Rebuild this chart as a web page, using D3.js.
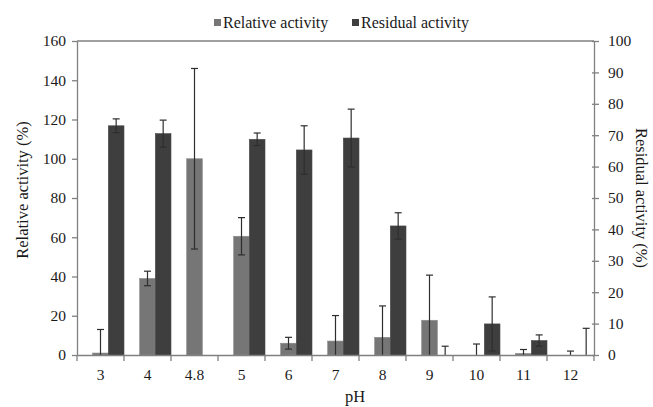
<!DOCTYPE html>
<html><head><meta charset="utf-8">
<script src="https://cdn.jsdelivr.net/npm/d3@7"></script>
<style>body{margin:0;background:#fff}svg{display:block}</style>
</head><body>
<svg id="c" width="653" height="407"></svg>
<script>
const categories = ["3","4","4.8","5","6","7","8","9","10","11","12"];
const relative    = [1, 39, 100, 60.5, 6, 7.1, 9, 17.7, 0, 0.8, 0];
const relativeErr = [12, 3.7, 46, 9.5, 3, 13, 16, 23, 5.6, 2, 2];
const residual    = [73, 70.5, 0, 68.7, 65.3, 69.1, 41.1, 0, 9.9, 4.6, 0];
const residualErr = [2.2, 4.3, 0, 2, 7.7, 9.2, 4.2, 2.8, 8.6, 1.8, 8.5];
const leftTicks = [0,20,40,60,80,100,120,140,160];
const rightTicks = [0,10,20,30,40,50,60,70,80,90,100];

const svg = d3.select("#c");
const FONT = "'Liberation Serif','Times New Roman',serif";
const L = 77, R = 594, T = 41, B = 355;
const axisColor = "#808080";
const grayC = "#767676", darkC = "#3e3e3e";
const txtC = "#1a1a1a";

const x = d3.scaleBand().domain(categories).range([L, R]).padding(0);
const yL = d3.scaleLinear().domain([0,160]).range([B, T]);
const yR = d3.scaleLinear().domain([0,100]).range([B, T]);
const bw = x.bandwidth();

// bars
const g = svg.append("g");
const relData = categories.map((c,i) => ({c, v: relative[i]})).filter(d => d.v > 0);
const resData = categories.map((c,i) => ({c, v: residual[i]})).filter(d => d.v > 0);
g.selectAll("rect.rel").data(relData).join("rect")
  .attr("x", d => x(d.c) + bw/3).attr("width", bw/3)
  .attr("y", d => yL(d.v)).attr("height", d => B - yL(d.v))
  .attr("fill", grayC).attr("stroke", "#8a8a8a").attr("stroke-width", 0.6);
g.selectAll("rect.res").data(resData).join("rect")
  .attr("x", d => x(d.c) + 2*bw/3).attr("width", bw/3)
  .attr("y", d => yR(d.v)).attr("height", d => B - yR(d.v))
  .attr("fill", darkC).attr("stroke", "#4a4a4a").attr("stroke-width", 0.6);

// error bars
function errBars(vals, errs, y, off) {
  categories.forEach((c, i) => {
    if (errs[i] <= 0) return;
    const cx = x(c) + off;
    const top = y(vals[i] + errs[i]);
    const lowV = vals[i] - errs[i];
    const bot = y(Math.max(0, lowV));
    const eg = svg.append("g").attr("stroke", "#2e2e2e").attr("stroke-width", 1.2);
    eg.append("line").attr("x1", cx).attr("x2", cx).attr("y1", top).attr("y2", bot);
    eg.append("line").attr("x1", cx-3.5).attr("x2", cx+3.5).attr("y1", top).attr("y2", top);
    if (lowV > 0) eg.append("line").attr("x1", cx-3.5).attr("x2", cx+3.5).attr("y1", bot).attr("y2", bot);
  });
}
errBars(relative, relativeErr, yL, bw/2);
errBars(residual, residualErr, yR, 5*bw/6);

// top frame line
svg.append("line").attr("x1", L).attr("x2", R).attr("y1", T).attr("y2", T).attr("stroke", axisColor).attr("stroke-width", 1.3);

// left axis
const ax = svg.append("g").attr("transform", `translate(${L},0)`)
  .call(d3.axisLeft(yL).tickValues(leftTicks).tickSize(5).tickSizeOuter(0).tickPadding(6));
ax.selectAll("text").attr("font-family", FONT).attr("font-size", 15.5).attr("fill", txtC);
ax.selectAll("line,path").attr("stroke", axisColor).attr("stroke-width", 1.3);

// right axis
const ar = svg.append("g").attr("transform", `translate(${R},0)`)
  .call(d3.axisRight(yR).tickValues(rightTicks).tickSize(5).tickSizeOuter(0).tickPadding(9));
ar.selectAll("text").attr("font-family", FONT).attr("font-size", 15.5).attr("fill", txtC);
ar.selectAll("line,path").attr("stroke", axisColor).attr("stroke-width", 1.3);
ar.selectAll(".tick line").attr("x1", -2);

// bottom axis
const ab = svg.append("g").attr("transform", `translate(0,${B})`)
  .call(d3.axisBottom(x).tickSize(0).tickSizeOuter(0).tickPadding(14));
ab.selectAll("text").attr("font-family", FONT).attr("font-size", 15.5).attr("fill", txtC);
ab.select("path").attr("stroke", axisColor).attr("stroke-width", 1.3);
const bounds = categories.map(c => x(c)).concat([R]);
svg.append("g").selectAll("line").data(bounds).join("line")
  .attr("x1", d => d).attr("x2", d => d).attr("y1", B).attr("y2", B + 6)
  .attr("stroke", axisColor).attr("stroke-width", 1.3);

// axis titles
svg.append("text").attr("transform", `translate(28,${(T+B)/2 - 8}) rotate(-90)`)
  .attr("text-anchor", "middle").attr("font-family", FONT).attr("font-size", 16.5).attr("fill", txtC)
  .text("Relative activity (%)");
svg.append("text").attr("transform", `translate(636,${(T+B)/2}) rotate(90)`)
  .attr("text-anchor", "middle").attr("font-family", FONT).attr("font-size", 16.5).attr("fill", txtC)
  .text("Residual activity (%)");
svg.append("text").attr("x", 355).attr("y", 402).attr("text-anchor", "middle")
  .attr("font-family", FONT).attr("font-size", 16.5).attr("fill", txtC).text("pH");

// legend
const legend = [{label: "Relative activity", color: grayC, x: 214}, {label: "Residual activity", color: darkC, x: 352}];
legend.forEach(l => {
  svg.append("rect").attr("x", l.x).attr("y", 19).attr("width", 7).attr("height", 7).attr("fill", l.color);
  svg.append("text").attr("x", l.x + 9).attr("y", 28).attr("font-family", FONT).attr("font-size", 16)
    .attr("fill", txtC).text(l.label);
});
</script>
</body></html>
